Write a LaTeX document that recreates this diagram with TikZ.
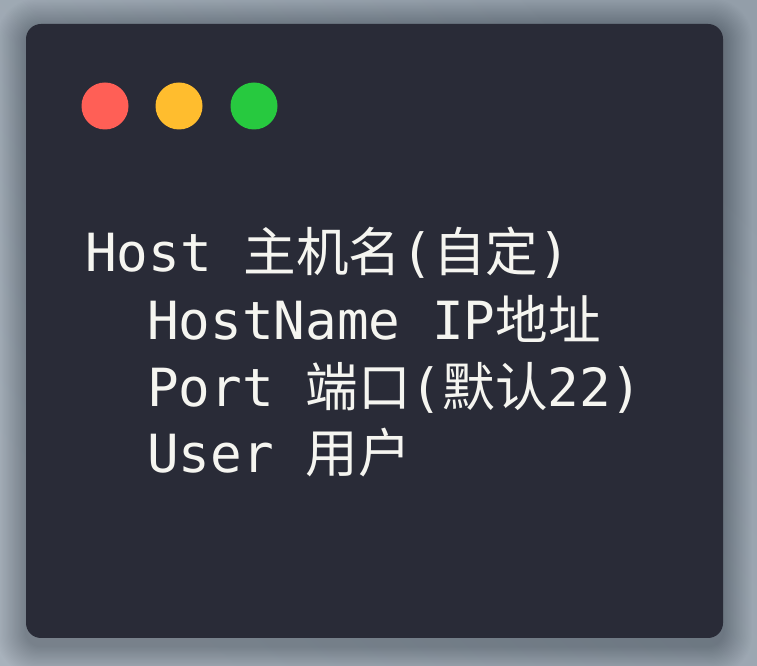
\documentclass[tikz,border=0pt]{standalone}
\usepackage{fontspec}
\setmonofont{DejaVu Sans Mono}
\newfontfamily\cjk{Noto Sans CJK SC}
\definecolor{bgA}{HTML}{A8B2BC}
\definecolor{bgB}{HTML}{939EA9}
\definecolor{card}{HTML}{292B37}
\definecolor{txt}{HTML}{F5F5F0}
\definecolor{dred}{HTML}{FF5F56}
\definecolor{dyel}{HTML}{FFBD2E}
\definecolor{dgrn}{HTML}{27C93F}
\definecolor{shadowc}{HTML}{2A323C}
\tikzset{
  codeline/.style={anchor=base west, inner sep=0pt, text=txt, font=\ttfamily\fontsize{52.6}{60}\selectfont},
  dot/.style={circle, minimum size=47pt, inner sep=0pt}
}
\begin{document}
\begin{tikzpicture}[x=1pt,y=1pt]
\useasboundingbox (0,0) rectangle (757,666);
\shade[left color=bgA, right color=bgB, shading angle=135] (0,0) rectangle (757,666);
% soft shadow
\foreach \i in {1,...,24}{
  \fill[shadowc, opacity=0.014, rounded corners={15pt+\i pt}]
    ({26-\i*1.2},{28-8-\i*1.2}) rectangle ({723+\i*1.2},{642-4+\i*1.2});
}
\fill[card, rounded corners=15pt] (26,28) rectangle (723,642);
\node[dot, fill=dred] (r) at (105,560) {};
\node[dot, fill=dyel] (y) at (179,560) {};
\node[dot, fill=dgrn] (g) at (254,560) {};
\node[codeline] (l1) at (85,394) {Host {\cjk 主机名}({\cjk 自定})};
\node[codeline] (l2) at (147,326) {HostName IP{\cjk 地址}};
\node[codeline] (l3) at (147,259) {Port {\cjk 端口}({\cjk 默认}22)};
\node[codeline] (l4) at (147,193) {User {\cjk 用户}};
\end{tikzpicture}
\end{document}
